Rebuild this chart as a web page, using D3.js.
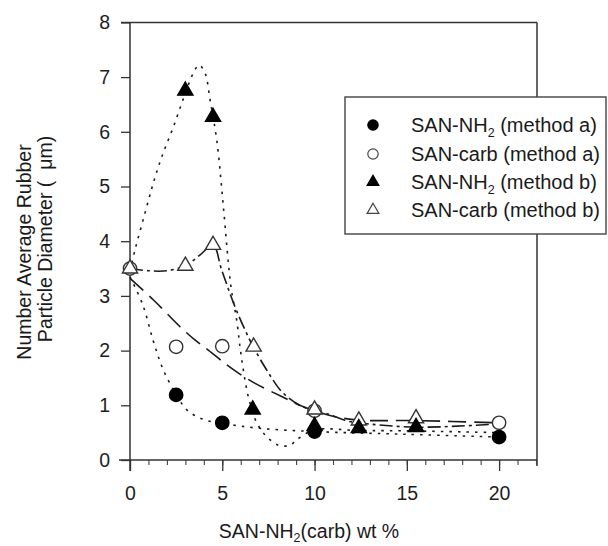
<!DOCTYPE html>
<html>
<head>
<meta charset="utf-8">
<script src="https://cdn.jsdelivr.net/npm/d3@7"></script>
<style>
  body { margin:0; background:#fff; }
  svg { display:block; font-family:"Liberation Sans", Arial, sans-serif; }
  .lbl { fill:#1a1a1a; }
</style>
</head>
<body>
<div id="chart"></div>
<script>
// ====== data
const X_TICKS = [0, 5, 10, 15, 20];
const X_MINOR = d3.range(0, 23, 1);
const Y_TICKS = [0, 1, 2, 3, 4, 5, 6, 7, 8];

// measured points
const nh2aX  = [2.5, 5, 10, 20];
const nh2aY  = [1.19, 0.68, 0.52, 0.42];
const carbaX = [0, 2.5, 5, 10, 20];
const carbaY = [3.5, 2.07, 2.08, 0.9, 0.68];
const nh2bX  = [3, 4.5, 6.65, 10, 12.4, 15.5];
const nh2bY  = [6.75, 6.27, 0.92, 0.62, 0.58, 0.6];
const carbbX = [0, 3, 4.5, 6.7, 10, 12.4, 15.5];
const carbbY = [3.5, 3.55, 3.93, 2.07, 0.92, 0.72, 0.76];

// hand-drawn trend curves
const fitNH2aX  = [0, 0.7, 1.25, 1.8, 2.5, 3.1, 4, 5, 7, 10, 15, 20];
const fitNH2aY  = [3.35, 2.83, 2.19, 1.65, 1.2, 0.91, 0.74, 0.67, 0.58, 0.52, 0.47, 0.42];
const fitCarbaX = [0, 1.26, 2.7, 3.5, 4.24, 5.2, 5.78, 6.78, 8.22, 9.2, 10, 11, 12.4, 15.5, 20];
const fitCarbaY = [3.32, 2.93, 2.44, 2.2, 2.01, 1.75, 1.61, 1.4, 1.16, 1.0, 0.9, 0.8, 0.73, 0.72, 0.68];
const fitNH2bX  = [0, 0.27, 0.81, 1.26, 1.72, 2.35, 2.94, 3.4, 3.74, 4.07, 4.34, 4.7, 5.06, 5.33, 5.5, 5.78, 5.96, 6.14, 6.41, 6.87, 7.4, 8.04, 8.67, 9.03, 10, 12.4, 15.5, 20];
const fitNH2bY  = [3.45, 3.84, 4.51, 5.06, 5.54, 6.09, 6.65, 7.05, 7.22, 7.07, 6.58, 5.85, 4.63, 3.6, 3.1, 2.56, 2.07, 1.65, 1.16, 0.68, 0.43, 0.27, 0.27, 0.37, 0.55, 0.54, 0.53, 0.5];
const fitCarbbX = [0, 1, 2, 3, 3.8, 4.5, 4.97, 5.69, 6.23, 6.68, 7.4, 8.22, 9.2, 10, 10.65, 11.7, 12.4, 15.5, 20];
const fitCarbbY = [3.5, 3.46, 3.46, 3.55, 3.75, 3.93, 3.47, 2.8, 2.38, 2.07, 1.65, 1.25, 1.0, 0.9, 0.85, 0.72, 0.68, 0.6, 0.66];

const LEGEND = [
  {name:"SAN-NH", sub:"2", rest:" (method a)", shape:"circle",   fill:true},
  {name:"SAN-carb (method a)", sub:"", rest:"",  shape:"circle",   fill:false},
  {name:"SAN-NH", sub:"2", rest:" (method b)", shape:"triangle", fill:true},
  {name:"SAN-carb (method b)", sub:"", rest:"",  shape:"triangle", fill:false}
];

// ====== layout
const W = 608, H = 546;
const INK = "#1e1e1e";
const zip = (xs, ys) => xs.map((v,i) => [v, ys[i]]);

const svg = d3.select("#chart").append("svg").attr("width", W).attr("height", H);

const x = d3.scaleLinear().domain([0, 22]).range([130, 536]);
const y = d3.scaleLinear().domain([0, 8]).range([460, 22.4]);

// frame (top + right)
const frame = svg.append("g").attr("stroke", "#333").attr("stroke-width", 1.5).attr("fill", "none");
frame.append("line").attr("x1", x(0) - 9).attr("x2", x(22) + 1).attr("y1", y(8)).attr("y2", y(8));
frame.append("line").attr("x1", x(22) + 1).attr("x2", x(22) + 1).attr("y1", y(8)).attr("y2", y(0) + 6);

// minor x ticks
svg.append("g")
  .attr("transform", `translate(0,${y(0)})`)
  .call(d3.axisBottom(x).tickValues(X_MINOR).tickSize(5).tickSizeOuter(0).tickFormat(""))
  .call(g => g.select(".domain").remove())
  .call(g => g.selectAll("line").attr("stroke", "#444").attr("stroke-width", 1.1));

// x axis
svg.append("g")
  .attr("transform", `translate(0,${y(0)})`)
  .call(d3.axisBottom(x).tickValues(X_TICKS).tickSize(11).tickPadding(15).tickSizeOuter(0))
  .call(g => g.select(".domain").attr("d", `M${x(0) - 11},0H${x(22) + 1}`).attr("stroke", "#333").attr("stroke-width", 1.5))
  .call(g => g.selectAll(".tick line").attr("stroke", "#333").attr("stroke-width", 1.3))
  .call(g => g.selectAll("text").attr("font-size", 19.5).attr("fill", INK).attr("font-family", null));

// y axis
svg.append("g")
  .attr("transform", `translate(${x(0)},0)`)
  .call(d3.axisLeft(y).tickValues(Y_TICKS).tickSize(9).tickPadding(11).tickSizeOuter(0))
  .call(g => g.select(".domain").attr("d", `M0,${y(8)}V${y(0) + 11}`).attr("stroke", "#333").attr("stroke-width", 1.5))
  .call(g => g.selectAll(".tick line").attr("stroke", "#333").attr("stroke-width", 1.3))
  .call(g => g.selectAll("text").attr("font-size", 19.5).attr("fill", INK).attr("font-family", null));

// ====== trend curves
const line = d3.line().x(d => x(d[0])).y(d => y(d[1])).curve(d3.curveCatmullRom.alpha(0.5));
const curves = [
  {pts: zip(fitNH2aX, fitNH2aY),   dash: "2.5,6"},
  {pts: zip(fitCarbaX, fitCarbaY), dash: "18,8"},
  {pts: zip(fitNH2bX, fitNH2bY),   dash: "2.5,6"},
  {pts: zip(fitCarbbX, fitCarbbY), dash: "13,4,3,4"}
];
svg.append("g").selectAll("path").data(curves).join("path")
  .attr("d", d => line(d.pts))
  .attr("fill", "none")
  .attr("stroke", "#1a1a1a")
  .attr("stroke-width", 1.6)
  .attr("stroke-dasharray", d => d.dash);

// ====== markers
const sym = (shape, size) => d3.symbol()
  .type(shape === "circle" ? d3.symbolCircle : d3.symbolTriangle)
  .size(size)();

const series = [
  {pts: zip(carbaX, carbaY), shape:"circle",   fill:false},
  {pts: zip(nh2aX, nh2aY),   shape:"circle",   fill:true},
  {pts: zip(carbbX, carbbY), shape:"triangle", fill:false},
  {pts: zip(nh2bX, nh2bY),   shape:"triangle", fill:true}
];
series.forEach(s => {
  svg.append("g").selectAll("path").data(s.pts).join("path")
    .attr("transform", d => `translate(${x(d[0])},${y(d[1])})`)
    .attr("d", sym(s.shape, s.shape === "circle" ? 140 : 100))
    .attr("fill", s.fill ? "#000" : "#fff")
    .attr("stroke", s.fill ? "#000" : "#333")
    .attr("stroke-width", 1.4);
});

// ====== legend
const lg = svg.append("g");
lg.append("rect").attr("x", 345).attr("y", 97).attr("width", 261).attr("height", 137)
  .attr("fill", "#fff").attr("stroke", "#444").attr("stroke-width", 1.4);
const rowsY = [125, 154, 182, 210];
LEGEND.forEach((d, i) => {
  lg.append("path")
    .attr("transform", `translate(373,${rowsY[i]})`)
    .attr("d", sym(d.shape, d.shape === "circle" ? 85 : 60))
    .attr("fill", d.fill ? "#000" : "#fff")
    .attr("stroke", d.fill ? "#000" : "#444")
    .attr("stroke-width", 1.2);
  const t = lg.append("text").attr("class", "lbl")
    .attr("x", 411).attr("y", rowsY[i] + 7).attr("font-size", 20);
  t.append("tspan").text(d.name);
  if (d.sub) {
    t.append("tspan").attr("font-size", 12.5).attr("dy", 5).text(d.sub);
    t.append("tspan").attr("dy", -5).text(d.rest);
  }
});

// ====== axis titles
const xt = svg.append("text").attr("class", "lbl")
  .attr("x", 309).attr("y", 538).attr("text-anchor", "middle").attr("font-size", 19.5);
xt.append("tspan").text("SAN-NH");
xt.append("tspan").attr("font-size", 12.5).attr("dy", 4).text("2");
xt.append("tspan").attr("dy", -4).text("(carb) wt %");

svg.append("text").attr("class", "lbl")
  .attr("transform", "translate(31,252) rotate(-90)")
  .attr("text-anchor", "middle").attr("font-size", 19.5)
  .text("Number Average Rubber");
svg.append("text").attr("class", "lbl")
  .attr("transform", "translate(52,239) rotate(-90)")
  .attr("text-anchor", "middle").attr("font-size", 19.5)
  .style("white-space", "pre")
  .text("Particle Diameter (  \u03bcm)");
</script>
</body>
</html>
